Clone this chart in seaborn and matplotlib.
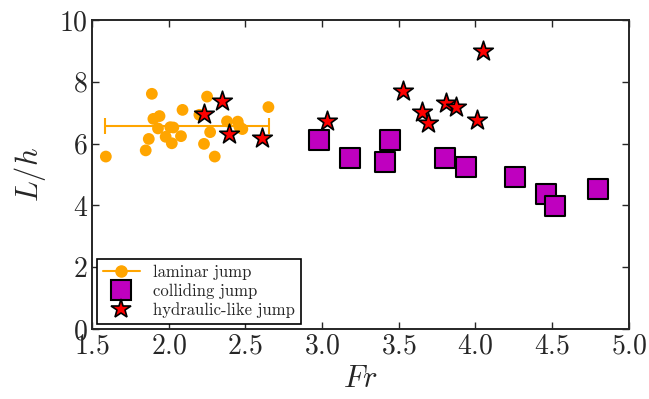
import matplotlib
matplotlib.use("Agg")
import matplotlib.pyplot as plt
import seaborn as sns
import pandas as pd
from matplotlib.lines import Line2D

# ---- data ----
laminar_fr = [1.59, 1.89, 1.85, 1.87, 1.90, 1.94, 1.93, 1.98, 2.02, 2.01, 2.03,
              2.08, 2.09, 2.25, 2.23, 2.27, 2.30, 2.38, 2.45, 2.48, 2.46, 2.65, 2.20]
laminar_lh = [5.58, 7.61, 5.78, 6.15, 6.80, 6.89, 6.49, 6.22, 6.01, 6.53, 6.52,
              6.24, 7.09, 7.52, 5.99, 6.37, 5.58, 6.72, 6.71, 6.47, 6.55, 7.18, 6.93]
laminar_mean_fr = 2.12
laminar_mean_lh = 6.58
laminar_err_fr = 0.533

colliding_fr = [2.98, 3.18, 3.44, 3.41, 3.80, 3.94, 4.26, 4.46, 4.52, 4.80]
colliding_lh = [6.12, 5.52, 6.12, 5.39, 5.52, 5.25, 4.92, 4.36, 3.99, 4.53]

hydraulic_fr = [2.23, 2.35, 2.39, 2.61, 3.03, 3.53, 3.65, 3.69, 3.81, 3.87, 4.01, 4.05]
hydraulic_lh = [6.95, 7.37, 6.30, 6.17, 6.73, 7.70, 7.02, 6.68, 7.32, 7.17, 6.76, 9.00]

x_ticks = [1.5, 2.0, 2.5, 3.0, 3.5, 4.0, 4.5, 5.0]
y_ticks = [0, 2, 4, 6, 8, 10]

sns.set_style("ticks")
plt.rcParams.update({
    "font.family": "serif",
    "font.serif": ["cmr10", "DejaVu Serif"],
    "mathtext.fontset": "cm",
    "axes.formatter.use_mathtext": True,
    "axes.unicode_minus": False,
    "xtick.direction": "in",
    "ytick.direction": "in",
    "xtick.top": True,
    "ytick.right": True,
})

fig = plt.figure(figsize=(6.49, 3.99), dpi=100)
ax = fig.add_axes([0.1418, 0.1754, 0.8272, 0.7746])

df_lam = pd.DataFrame({"Fr": laminar_fr, "Lh": laminar_lh})
df_col = pd.DataFrame({"Fr": colliding_fr, "Lh": colliding_lh})
df_hyd = pd.DataFrame({"Fr": hydraulic_fr, "Lh": hydraulic_lh})

ax.errorbar([laminar_mean_fr], [laminar_mean_lh], xerr=[laminar_err_fr],
            fmt="none", ecolor="orange", elinewidth=1.5, capsize=6, capthick=1.5, zorder=2)
sns.scatterplot(data=df_lam, x="Fr", y="Lh", ax=ax, color="orange", s=72,
                edgecolor="none", linewidth=0, zorder=3)
sns.scatterplot(data=df_col, x="Fr", y="Lh", ax=ax, color="#BF00BF", marker="s",
                s=200, edgecolor="black", linewidth=1.5, zorder=4)
sns.scatterplot(data=df_hyd, x="Fr", y="Lh", ax=ax, color="red", marker="*",
                s=220, edgecolor="black", linewidth=1.2, zorder=5)

ax.set_xlim(1.5, 5.0)
ax.set_ylim(0, 10)
ax.set_xticks(x_ticks)
ax.set_yticks(y_ticks)
ax.set_xticklabels([f"${t:.1f}$" for t in x_ticks])
ax.set_yticklabels([f"${t}$" for t in y_ticks])
ax.tick_params(labelsize=20, length=5, width=1, pad=3)
ax.set_xlabel(r"$Fr$", fontsize=22, labelpad=4)
ax.set_ylabel(r"$L/h$", fontsize=22, labelpad=8)
for s in ax.spines.values():
    s.set_visible(True)
    s.set_linewidth(1.4)

handles = [
    Line2D([0], [0], color="orange", marker="o", markersize=8, lw=1.5),
    Line2D([0], [0], color="#BF00BF", marker="s", markersize=14, lw=0,
           markeredgecolor="black", markeredgewidth=1.5),
    Line2D([0], [0], color="red", marker="*", markersize=15, lw=0,
           markeredgecolor="black", markeredgewidth=1.2),
]
labels = ["laminar jump", "colliding jump", "hydraulic-like jump"]
leg = ax.legend(handles, labels, loc="lower left", fontsize=12, frameon=True,
                fancybox=False, edgecolor="black", framealpha=1,
                handlelength=2.2, borderpad=0.35, labelspacing=0.2,
                handletextpad=0.8, borderaxespad=0.3,
                bbox_to_anchor=(0.0, 0.0))
leg.get_frame().set_linewidth(1.2)

fig.savefig("out.png", dpi=100)
